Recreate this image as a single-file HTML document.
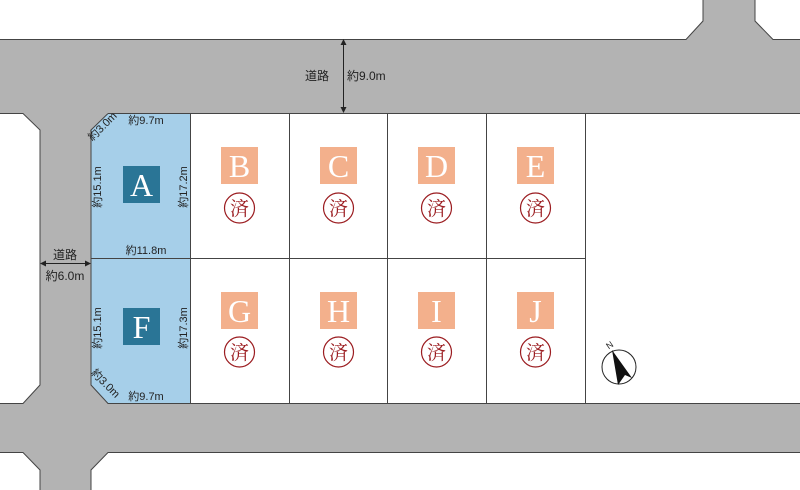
<!DOCTYPE html>
<html><head><meta charset="utf-8"><style>
body{margin:0;background:#fff}
svg{display:block}
text{font-family:"Liberation Sans","Noto Sans CJK JP",sans-serif;fill:#222}
.big{font-family:"Liberation Serif","Noto Serif CJK SC",serif;font-size:32px;fill:#fff;text-anchor:middle}
.sumi{font-family:"Noto Serif CJK SC",serif;font-size:19px;fill:#9b1c20;text-anchor:middle}
.d{font-size:11px}
</style></head><body>
<svg width="800" height="490" viewBox="0 0 800 490" xmlns="http://www.w3.org/2000/svg">
<g fill="#b3b3b3">
<path d="M0,39 H686 L703,21 V0 H755 V21 L773,39 H800 V113 H0 Z"/>
<path d="M23,113 L40,130 V385 L23,403 H0 V452 H23 L40,470 V490 H91 V470 L108,452 H800 V403 H108 L91,385 V130 L108,113 Z"/>
</g>
<g fill="none" stroke="#444" stroke-width="1">
<path d="M0,39.5 H686 L703,21 V0 M755,0 V21 L773,39.5 H800"/>
<path d="M0,113.5 H23 L40,130 V385 L23,403.5 H0"/>
<path d="M0,452.5 H23 L40,470 V490 M91,490 V470 L108,452.5 H800"/>
</g>
<path d="M108,113.5 H190 V403 H108 L91,385 V130 Z" fill="#a6cfe9"/>
<g fill="none" stroke="#444" stroke-width="1">
<path d="M108,113.5 H800"/>
<path d="M108,113.5 L91,130 V385 L108,403.5 H800"/>
<path d="M91,258.5 H585 M190.5,113 V403 M289.5,113 V403 M387.5,113 V403 M486.5,113 V403 M585.5,113 V403"/>
</g>
<rect x="123" y="166" width="37" height="37" fill="#2a7596"/>
<text class="big" x="141.5" y="196">A</text>
<rect x="123" y="308" width="37" height="37" fill="#2a7596"/>
<text class="big" x="141.5" y="338">F</text>
<g>
<rect x="221" y="147" width="37" height="37" fill="#f3b08c"/><text class="big" x="239.5" y="177">B</text>
<rect x="320" y="147" width="37" height="37" fill="#f3b08c"/><text class="big" x="338.5" y="177">C</text>
<rect x="418" y="147" width="37" height="37" fill="#f3b08c"/><text class="big" x="436.5" y="177">D</text>
<rect x="517" y="147" width="37" height="37" fill="#f3b08c"/><text class="big" x="535.5" y="177">E</text>
<rect x="221" y="292" width="37" height="37" fill="#f3b08c"/><text class="big" x="239.5" y="322">G</text>
<rect x="320" y="292" width="37" height="37" fill="#f3b08c"/><text class="big" x="338.5" y="322">H</text>
<rect x="418" y="292" width="37" height="37" fill="#f3b08c"/><text class="big" x="436.5" y="322">I</text>
<rect x="517" y="292" width="37" height="37" fill="#f3b08c"/><text class="big" x="535.5" y="322">J</text>
</g>
<g fill="none" stroke="#9b1c20" stroke-width="1.2">
<circle cx="239.5" cy="208" r="15"/><circle cx="338.5" cy="208" r="15"/><circle cx="436.5" cy="208" r="15"/><circle cx="535.5" cy="208" r="15"/>
<circle cx="239.5" cy="352" r="15"/><circle cx="338.5" cy="352" r="15"/><circle cx="436.5" cy="352" r="15"/><circle cx="535.5" cy="352" r="15"/>
</g>
<g>
<text class="sumi" x="239.5" y="215">済</text><text class="sumi" x="338.5" y="215">済</text><text class="sumi" x="436.5" y="215">済</text><text class="sumi" x="535.5" y="215">済</text>
<text class="sumi" x="239.5" y="359">済</text><text class="sumi" x="338.5" y="359">済</text><text class="sumi" x="436.5" y="359">済</text><text class="sumi" x="535.5" y="359">済</text>
</g>
<g stroke="#222" stroke-width="1" fill="#222">
<line x1="343.5" y1="42" x2="343.5" y2="110"/>
<path d="M343.5,39 l-3,6 h6 Z M343.5,113 l-3,-6 h6 Z" stroke="none"/>
<line x1="43" y1="263.5" x2="88" y2="263.5"/>
<path d="M40,263.5 l6,-3 v6 Z M91,263.5 l-6,-3 v6 Z" stroke="none"/>
</g>
<text x="305" y="80" font-size="12">道路</text>
<text x="347" y="80" font-size="12">約9.0m</text>
<text x="65" y="259" font-size="12" text-anchor="middle">道路</text>
<text x="65" y="280" font-size="12" text-anchor="middle">約6.0m</text>
<text class="d" x="146" y="124" text-anchor="middle">約9.7m</text>
<text class="d" x="146" y="254" text-anchor="middle">約11.8m</text>
<text class="d" x="146" y="400" text-anchor="middle">約9.7m</text>
<text class="d" font-size="10" transform="translate(105,129) rotate(-45)" text-anchor="middle">約3.0m</text>
<text class="d" font-size="10" transform="translate(103,386) rotate(45)" text-anchor="middle">約3.0m</text>
<text class="d" transform="translate(101,187) rotate(-90)" text-anchor="middle">約15.1m</text>
<text class="d" transform="translate(187,187) rotate(-90)" text-anchor="middle">約17.2m</text>
<text class="d" transform="translate(101,328) rotate(-90)" text-anchor="middle">約15.1m</text>
<text class="d" transform="translate(187,328) rotate(-90)" text-anchor="middle">約17.3m</text>
<circle cx="619" cy="367" r="17" fill="#fff" stroke="#222" stroke-width="1"/>
<path d="M612,350 L632,378 L625,375 L618,385 Z" fill="#111"/>
<text x="607" y="350" font-size="9" transform="rotate(-35 607 347)">N</text>
</svg>
</body></html>
